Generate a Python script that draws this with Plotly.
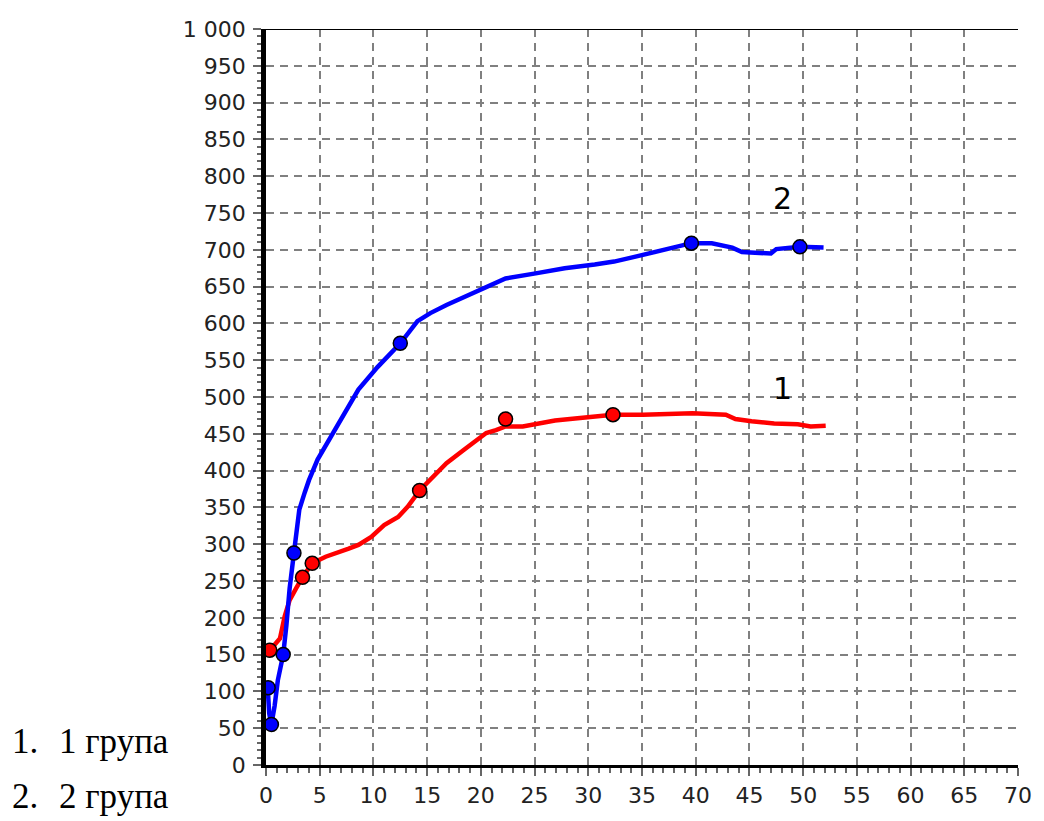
import plotly.graph_objects as go

# Group 1 (red) curve
red_x = [0.1, 0.37, 0.9, 1.3, 1.74, 2.2, 2.8, 3.4, 4.3, 5.55, 7.7, 8.6, 9.8, 11.0, 12.3, 13.2,
         14.3, 15.6, 16.8, 18.4, 19.6, 20.5, 21.4, 22.3, 23.9, 25.1, 26.9, 29.0, 30.6, 32.3,
         35.1, 36.7, 39.7, 42.8, 43.7, 45.2, 47.3, 49.5, 50.7, 52.1]
red_y = [160, 156, 165, 172, 202, 224, 240, 255, 274, 283, 294, 299, 310, 326, 337, 351,
         373, 392, 410, 428, 442, 451, 455, 460, 460, 463, 468, 471, 474, 476,
         476, 477, 478, 476, 470, 467, 464, 463, 460, 461]
red_mx = [0.35, 3.4, 4.3, 14.3, 22.3, 32.3]
red_my = [156, 255, 274, 373, 470, 476]

# Group 2 (blue) curve
blue_x = [0.15, 0.3, 0.5, 0.8, 1.1, 1.6, 1.9, 2.2, 2.6, 2.9, 3.1, 3.6, 4.0, 4.8, 5.9, 7.2,
          8.6, 10.4, 12.5, 14.1, 15.3, 16.8, 19.6, 22.3, 25.1, 27.8, 30.6, 32.4, 34.2, 35.1,
          37.9, 39.6, 41.5, 43.4, 44.3, 46.1, 47.0, 47.5, 49.7, 51.9]
blue_y = [107, 70, 55, 80, 115, 150, 190, 240, 288, 330, 347, 370, 387, 415, 442, 473,
          510, 541, 573, 603, 614, 625, 643, 661, 668, 675, 680, 684, 690, 693,
          702, 709, 709, 703, 697, 695, 695, 701, 704, 703]
blue_mx = [0.2, 0.5, 1.6, 2.6, 12.5, 39.6, 49.7]
blue_my = [105, 55, 150, 288, 573, 709, 704]

y_ticks = list(range(0, 1001, 50))
y_labels = [("1 000" if v == 1000 else str(v)) for v in y_ticks]
x_ticks = list(range(0, 71, 5))
x_labels = [str(v) for v in x_ticks]

curve_labels = ["1", "2"]
curve_label_x = [48.1, 48.1]
curve_label_y = [512, 770]

legend_nums = ["1.", "2."]
legend_texts = ["1 група", "2 група"]

fig = go.Figure()
fig.add_trace(go.Scatter(x=red_x, y=red_y, mode="lines",
                         line=dict(color="#FF0000", width=4.5), showlegend=False))
fig.add_trace(go.Scatter(x=blue_x, y=blue_y, mode="lines",
                         line=dict(color="#0000FF", width=4.5), showlegend=False))
fig.add_trace(go.Scatter(x=red_mx, y=red_my, mode="markers",
                         marker=dict(symbol="circle", size=14, color="#FF0000",
                                     line=dict(color="black", width=1.5)), showlegend=False))
fig.add_trace(go.Scatter(x=blue_mx, y=blue_my, mode="markers",
                         marker=dict(symbol="circle", size=14, color="#0000FF",
                                     line=dict(color="black", width=1.5)), showlegend=False))

for t, x, y in zip(curve_labels, curve_label_x, curve_label_y):
    fig.add_annotation(x=x, y=y, xref="x", yref="y", text=t, showarrow=False,
                       font=dict(family="DejaVu Sans", size=30, color="black"))

legend_py = [0.032, -0.043]
for num, txt, py in zip(legend_nums, legend_texts, legend_py):
    fig.add_annotation(x=(6 - 266) / 764, y=py, xref="paper", yref="paper", text=num,
                       showarrow=False, xanchor="left", yanchor="middle",
                       font=dict(family="Liberation Serif", size=35, color="black"))
    fig.add_annotation(x=(54 - 266) / 764, y=py, xref="paper", yref="paper", text=txt,
                       showarrow=False, xanchor="left", yanchor="middle",
                       font=dict(family="Liberation Serif", size=35, color="black"))

# top frame line
fig.add_shape(type="line", xref="x", yref="y", x0=0, x1=70, y0=1000, y1=1000,
              line=dict(color="black", width=2), layer="above")

fig.update_layout(
    width=1044, height=821,
    margin=dict(l=266, r=14, t=29, b=56),
    plot_bgcolor="white", paper_bgcolor="white",
    font=dict(family="DejaVu Sans", size=22, color="#222222"),
)
fig.update_xaxes(range=[0, 70], tickvals=x_ticks, ticktext=x_labels,
                 showline=True, linecolor="black", linewidth=3,
                 ticks="outside", ticklen=8, tickcolor="#666666", tickwidth=1.5,
                 showgrid=True, gridcolor="#808080", gridwidth=1.8, griddash="8px,6px",
                 zeroline=False, ticklabelstandoff=1,
                 minor=dict(dtick=1, ticks="outside", ticklen=5, tickcolor="#666666",
                            showgrid=False))
fig.update_yaxes(range=[0, 1000], tickvals=y_ticks, ticktext=y_labels,
                 showline=True, linecolor="black", linewidth=4.5,
                 ticks="outside", ticklen=8, tickcolor="#666666", tickwidth=1.5,
                 showgrid=True, gridcolor="#808080", gridwidth=1.8, griddash="8px,6px",
                 zeroline=False, ticklabelstandoff=3,
                 minor=dict(dtick=10, ticks="outside", ticklen=4, tickcolor="#666666",
                            showgrid=False))

fig.write_html("out.html")
